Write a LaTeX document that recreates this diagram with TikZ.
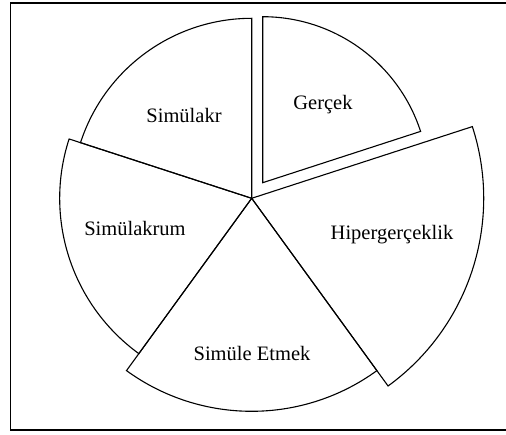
\documentclass[tikz,border=0pt]{standalone}
\usepackage{fontspec}
\setmainfont{Liberation Serif}
\usepackage{tikz}

\tikzset{
  slice/.style={draw, line width=1.1pt, line join=miter},
  lbl/.style={font=\fontsize{20.5}{24}\selectfont, inner sep=0pt},
  frame/.style={draw, line width=1.6pt}
}

\begin{document}
\begin{tikzpicture}[x=1pt, y=1pt]
 \useasboundingbox (-251.7,-235.7) rectangle (254.3,198.3);
 \begin{scope}
  \clip (-251.7,-235.7) rectangle (254.3,198.3);
  \draw[frame] (-241.2,-231.7) rectangle (262,195);
 \end{scope}
 % slices: start angle / end angle / radius / shift
 \foreach \a/\b/\r/\dx/\dy in {18/90/166/11/15.6, 90/162/180/0/0, 162/234/192/0/0,
   234/306/213/0/0, 306/378/232/0/0}
  \draw[slice, shift={(\dx,\dy)}] (0,0) -- (\a:\r) arc[start angle=\a, end angle=\b, radius=\r] -- cycle;
 \node[lbl] (gercek) at (71.3,93.3) {Gerçek};
 \node[lbl] (simulakr) at (-67.7,83.3) {Simülakr};
 \node[lbl] (simulakrum) at (-116.7,-29.7) {Simülakrum};
 \node[lbl] (hiper) at (140.3,-36.7) {Hipergerçeklik};
 \node[lbl] (simule) at (0.3,-154.7) {Simüle Etmek};
\end{tikzpicture}
\end{document}
